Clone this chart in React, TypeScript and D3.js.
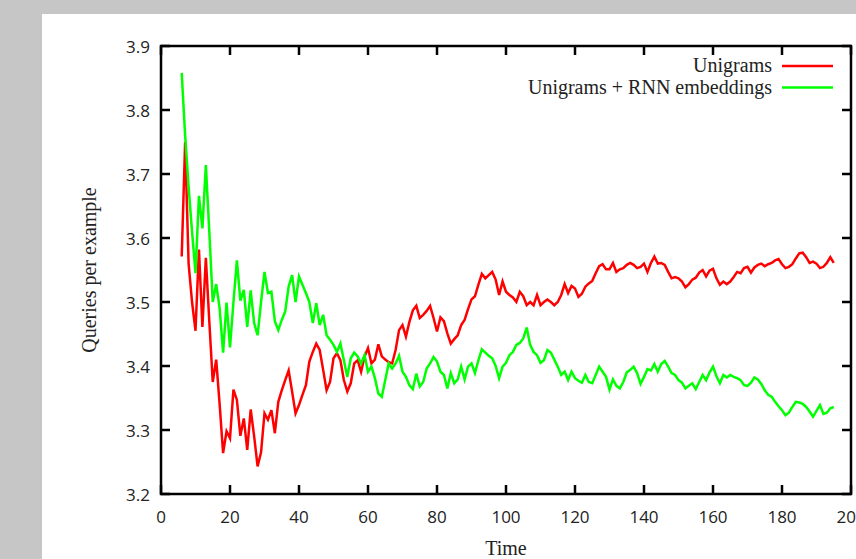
import React from "react";
import * as d3 from "d3";

const startTime = 6;
const unigrams = [
  3.571, 3.750, 3.56, 3.50, 3.455, 3.582, 3.461, 3.569, 3.47, 3.375,
  3.410, 3.34, 3.264, 3.298, 3.287, 3.363, 3.347, 3.291, 3.318, 3.269,
  3.332, 3.29, 3.243, 3.265, 3.326, 3.316, 3.331, 3.295, 3.344, 3.362,
  3.378, 3.393, 3.36, 3.326, 3.339, 3.355, 3.370, 3.407, 3.422, 3.435,
  3.425, 3.394, 3.362, 3.375, 3.412, 3.420, 3.409, 3.378, 3.360, 3.373,
  3.404, 3.409, 3.391, 3.415, 3.428, 3.404, 3.41, 3.434, 3.415, 3.410,
  3.406, 3.404, 3.425, 3.456, 3.464, 3.446, 3.469, 3.487, 3.494, 3.475,
  3.480, 3.486, 3.494, 3.475, 3.454, 3.476, 3.470, 3.451, 3.435, 3.442,
  3.448, 3.464, 3.472, 3.489, 3.504, 3.509, 3.527, 3.544, 3.537, 3.542,
  3.547, 3.535, 3.511, 3.532, 3.516, 3.511, 3.507, 3.500, 3.516, 3.509,
  3.495, 3.500, 3.495, 3.511, 3.495, 3.500, 3.504, 3.500, 3.495, 3.500,
  3.511, 3.528, 3.514, 3.525, 3.521, 3.508, 3.513, 3.524, 3.529, 3.533,
  3.545, 3.556, 3.559, 3.551, 3.551, 3.561, 3.547, 3.551, 3.553, 3.558,
  3.561, 3.558, 3.553, 3.555, 3.560, 3.547, 3.561, 3.571, 3.560, 3.561,
  3.558, 3.547, 3.537, 3.539, 3.537, 3.532, 3.523, 3.528, 3.535, 3.538,
  3.546, 3.550, 3.540, 3.549, 3.552, 3.537, 3.527, 3.532, 3.528, 3.532,
  3.539, 3.547, 3.545, 3.553, 3.555, 3.546, 3.554, 3.558, 3.560, 3.556,
  3.559, 3.561, 3.565, 3.567, 3.559, 3.553, 3.555, 3.559, 3.568, 3.576,
  3.577, 3.570, 3.561, 3.563, 3.560, 3.553, 3.555, 3.561, 3.570, 3.561,
];
const unigramsRnn = [
  3.858, 3.76, 3.68, 3.61, 3.545, 3.666, 3.615, 3.714, 3.61, 3.500,
  3.528, 3.49, 3.421, 3.499, 3.429, 3.50, 3.565, 3.502, 3.519, 3.461,
  3.518, 3.467, 3.448, 3.50, 3.547, 3.514, 3.516, 3.470, 3.456, 3.472,
  3.485, 3.524, 3.542, 3.500, 3.540, 3.527, 3.514, 3.500, 3.467, 3.498,
  3.464, 3.480, 3.448, 3.441, 3.433, 3.422, 3.435, 3.409, 3.383, 3.412,
  3.421, 3.415, 3.404, 3.417, 3.391, 3.399, 3.381, 3.357, 3.352, 3.378,
  3.404, 3.396, 3.404, 3.416, 3.391, 3.383, 3.370, 3.364, 3.388, 3.368,
  3.375, 3.396, 3.404, 3.414, 3.407, 3.391, 3.386, 3.365, 3.389, 3.373,
  3.379, 3.399, 3.379, 3.399, 3.404, 3.389, 3.409, 3.426, 3.421, 3.416,
  3.412, 3.400, 3.381, 3.399, 3.405, 3.417, 3.422, 3.433, 3.436, 3.443,
  3.460, 3.433, 3.422, 3.417, 3.405, 3.409, 3.425, 3.421, 3.410, 3.399,
  3.386, 3.391, 3.378, 3.391, 3.381, 3.377, 3.374, 3.386, 3.375, 3.373,
  3.386, 3.399, 3.391, 3.383, 3.363, 3.379, 3.369, 3.365, 3.375, 3.390,
  3.394, 3.399, 3.389, 3.372, 3.383, 3.395, 3.393, 3.403, 3.391, 3.403,
  3.408, 3.399, 3.389, 3.386, 3.378, 3.374, 3.365, 3.369, 3.373, 3.364,
  3.375, 3.386, 3.378, 3.390, 3.399, 3.384, 3.373, 3.386, 3.382, 3.386,
  3.383, 3.381, 3.378, 3.370, 3.369, 3.374, 3.382, 3.379, 3.372, 3.362,
  3.355, 3.352, 3.344, 3.337, 3.331, 3.323, 3.327, 3.336, 3.344, 3.343,
  3.341, 3.336, 3.329, 3.321, 3.330, 3.339, 3.325, 3.327, 3.334, 3.336,
];
const xTicks = [0, 20, 40, 60, 80, 100, 120, 140, 160, 180, 200];
const yTicks = [3.2, 3.3, 3.4, 3.5, 3.6, 3.7, 3.8, 3.9];
const seriesNames = ["Unigrams", "Unigrams + RNN embeddings"];
const seriesColors = ["#ff0000", "#00ff00"];

const W = 856;
const H = 559;
const left = 161;
const right = 851;
const top = 46;
const bottom = 494;

export default function App() {
  const x = d3.scaleLinear().domain([0, 200]).range([left, right]);
  const y = d3.scaleLinear().domain([3.2, 3.9]).range([bottom, top]);
  const line = d3
    .line<number>()
    .x((_, i) => x(startTime + i))
    .y((d) => y(d));
  const series = [unigrams, unigramsRnn];
  const tickLen = 9;
  const sans = "'Open Sans', sans-serif";
  const serif = "'Liberation Serif', serif";
  return (
    <svg
      width={W}
      height={H}
      style={{ position: "absolute", left: 0, top: 0 }}
    >
      <rect x={0} y={0} width={W} height={H} fill="#c5c6c5" />
      <rect x={42} y={14} width={W - 42} height={H - 14} fill="#ffffff" />
      {series.map((s, k) => (
        <path
          key={k}
          d={line(s) || ""}
          fill="none"
          stroke={seriesColors[k]}
          strokeWidth={2.5}
          strokeLinejoin="miter"
        />
      ))}
      {xTicks.map((t) => (
        <g key={"x" + t}>
          <line x1={x(t)} x2={x(t)} y1={bottom} y2={bottom - tickLen} stroke="#000" strokeWidth={2.5} />
          <line x1={x(t)} x2={x(t)} y1={top} y2={top + tickLen} stroke="#000" strokeWidth={2.5} />
          <text x={x(t)} y={523} textAnchor="middle" fontFamily={sans} fontSize={17} fill="#222">
            {t}
          </text>
        </g>
      ))}
      {yTicks.map((t) => (
        <g key={"y" + t}>
          <line x1={left} x2={left + tickLen} y1={y(t)} y2={y(t)} stroke="#000" strokeWidth={2.5} />
          <line x1={right} x2={right - tickLen} y1={y(t)} y2={y(t)} stroke="#000" strokeWidth={2.5} />
          <text x={150} y={y(t) + 6.5} textAnchor="end" fontFamily={sans} fontSize={17} fill="#222">
            {t.toFixed(1)}
          </text>
        </g>
      ))}
      <rect
        x={left}
        y={top}
        width={right - left}
        height={bottom - top}
        fill="none"
        stroke="#000"
        strokeWidth={2.5}
      />
      {seriesNames.map((n, k) => (
        <g key={n}>
          <text x={772} y={72 + k * 21.5} textAnchor="end" fontFamily={serif} fontSize={20} fill="#222">
            {n}
          </text>
          <line
            x1={782}
            x2={833}
            y1={66 + k * 21.5}
            y2={66 + k * 21.5}
            stroke={seriesColors[k]}
            strokeWidth={2.5}
          />
        </g>
      ))}
      <text x={(left + right) / 2} y={555} textAnchor="middle" fontFamily={serif} fontSize={20} fill="#222">
        Time
      </text>
      <text
        transform={`translate(96, ${(top + bottom) / 2}) rotate(-90)`}
        textAnchor="middle"
        fontFamily={serif}
        fontSize={20}
        fill="#222"
      >
        Queries per example
      </text>
    </svg>
  );
}
